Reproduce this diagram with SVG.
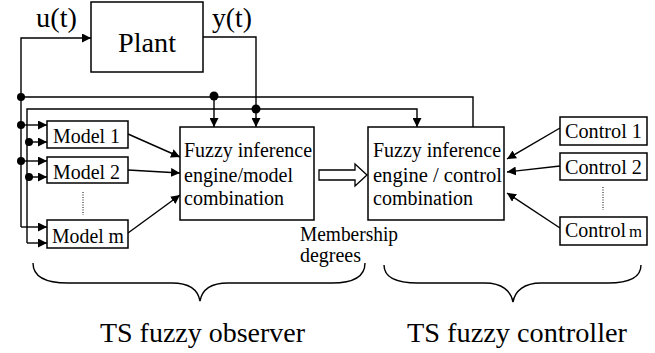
<svg xmlns="http://www.w3.org/2000/svg" width="655" height="353" viewBox="0 0 655 353">
  <style>
    .box { fill: #fff; stroke: #000; stroke-width: 1.5; }
    .wire { fill: none; stroke: #000; stroke-width: 1.4; }
    .arr { fill: none; stroke: #000; stroke-width: 1.4; marker-end: url(#head); }
    .dot { fill: #000; }
    .dots { fill: none; stroke: #000; stroke-width: 1; stroke-dasharray: 1 1.5; }
    .brace { fill: none; stroke: #000; stroke-width: 1.4; }
    .t20 { font-size: 20px; }
    .t28 { font-size: 28px; }
  </style>
  <defs>
    <marker id="head" viewBox="0 0 10 10" refX="10" refY="5" markerWidth="9" markerHeight="9" markerUnits="userSpaceOnUse" orient="auto">
      <path d="M0,0 L10,5 L0,10 Z" fill="#000"/>
    </marker>
  </defs>
  <rect width="655" height="353" fill="#fff"/>

  <!-- signal wiring -->
  <g id="connectors">
    <!-- u(t): controller output back to plant input -->
    <path class="wire" d="M473,127 L473,97 L21,97"/>
    <path class="arr" d="M21,97 L21,38 L91,38"/>
    <path class="wire" d="M21,97 L21,227"/>
    <path class="arr" d="M214,97 L214,127"/>
    <!-- y(t): plant output -->
    <path class="arr" d="M203,37 L256,37 L256,127"/>
    <path class="arr" d="M256,109 L417,109 L417,127"/>
    <path class="wire" d="M256,109 L27,109 L27,243"/>
    <!-- inputs to local models -->
    <path class="arr" d="M21,125 L47,125"/>
    <path class="arr" d="M28,142 L47,142"/>
    <path class="arr" d="M21,161 L47,161"/>
    <path class="arr" d="M28,177 L47,177"/>
    <path class="arr" d="M21,227 L47,227"/>
    <path class="arr" d="M27,243 L47,243"/>
    <!-- model outputs to observer -->
    <path class="arr" d="M128,134 L180,157"/>
    <path class="arr" d="M128,170 L180,173"/>
    <path class="arr" d="M128,233 L180,195"/>
    <!-- local controllers to control combination -->
    <path class="arr" d="M560,128 L507,159"/>
    <path class="arr" d="M560,166 L507,172"/>
    <path class="arr" d="M560,228 L507,193"/>
    <!-- membership degrees (hollow arrow) -->
    <path d="M319,170 L355,170 L355,164 L367,175 L355,186 L355,180 L319,180 Z" fill="#fff" stroke="#000" stroke-width="1.3"/>
    <!-- junction dots -->
    <circle class="dot" cx="21" cy="97" r="4"/>
    <circle class="dot" cx="214" cy="96" r="4.5"/>
    <circle class="dot" cx="256" cy="109" r="4.5"/>
    <circle class="dot" cx="21" cy="125" r="4"/>
    <circle class="dot" cx="29" cy="142" r="4"/>
    <circle class="dot" cx="21" cy="161" r="4"/>
    <circle class="dot" cx="29" cy="177" r="4"/>
    <!-- ellipsis between models / controllers -->
    <line class="dots" x1="83" y1="192" x2="83" y2="215"/>
    <line class="dots" x1="603" y1="187" x2="603" y2="210"/>
  </g>

  <g font-family="'Liberation Serif', Tinos, 'Times New Roman', Times, 'Nimbus Roman', FreeSerif, 'DejaVu Serif', serif" fill="#000" lengthAdjust="spacingAndGlyphs">
  <g id="plant">
    <rect class="box" x="91" y="2" width="112" height="70"/>
    <text class="t28" x="118" y="52" textLength="58" lengthAdjust="spacingAndGlyphs">Plant</text>
  </g>
  <g id="label-u">
    <text class="t28" x="36" y="27" textLength="41" lengthAdjust="spacingAndGlyphs">u(t)</text>
  </g>
  <g id="label-y">
    <text class="t28" x="212" y="27" textLength="40" lengthAdjust="spacingAndGlyphs">y(t)</text>
  </g>

  <g id="model-1">
    <rect class="box" x="47" y="121" width="81" height="27"/>
    <text class="t20" x="53" y="143" textLength="67" lengthAdjust="spacingAndGlyphs">Model 1</text>
  </g>
  <g id="model-2">
    <rect class="box" x="47" y="157" width="81" height="26"/>
    <text class="t20" x="53" y="179" textLength="67" lengthAdjust="spacingAndGlyphs">Model 2</text>
  </g>
  <g id="model-m">
    <rect class="box" x="47" y="220" width="81" height="28"/>
    <text class="t20" x="52" y="243" textLength="72" lengthAdjust="spacingAndGlyphs">Model m</text>
  </g>

  <g id="observer-engine">
    <rect class="box" x="180" y="127" width="134" height="93"/>
    <text class="t20" x="184" y="157" textLength="128" lengthAdjust="spacingAndGlyphs">Fuzzy inference</text>
    <text class="t20" x="184" y="182" textLength="109" lengthAdjust="spacingAndGlyphs">engine/model</text>
    <text class="t20" x="184" y="205" textLength="100" lengthAdjust="spacingAndGlyphs">combination</text>
  </g>

  <g id="controller-engine">
    <rect class="box" x="368" y="127" width="136" height="93"/>
    <text class="t20" x="373" y="157" textLength="128" lengthAdjust="spacingAndGlyphs">Fuzzy inference</text>
    <text class="t20" x="373" y="182" textLength="129" lengthAdjust="spacingAndGlyphs">engine / control</text>
    <text class="t20" x="373" y="205" textLength="100" lengthAdjust="spacingAndGlyphs">combination</text>
  </g>

  <g id="control-1">
    <rect class="box" x="560" y="117" width="87" height="28"/>
    <text class="t20" x="565" y="138" textLength="77" lengthAdjust="spacingAndGlyphs">Control 1</text>
  </g>
  <g id="control-2">
    <rect class="box" x="560" y="153" width="87" height="27"/>
    <text class="t20" x="565" y="174" textLength="77" lengthAdjust="spacingAndGlyphs">Control 2</text>
  </g>
  <g id="control-m">
    <rect class="box" x="560" y="217" width="87" height="28"/>
    <text class="t20" x="565" y="237" textLength="61" lengthAdjust="spacingAndGlyphs">Control</text>
    <text x="629" y="237" font-size="16" textLength="13" lengthAdjust="spacingAndGlyphs">m</text>
  </g>

  <g id="membership-label">
    <text class="t20" x="300" y="241" textLength="98" lengthAdjust="spacingAndGlyphs">Membership</text>
    <text class="t20" x="300" y="262" textLength="61" lengthAdjust="spacingAndGlyphs">degrees</text>
  </g>

  <g id="observer-group">
    <path class="brace" d="M33,263 C33,276 44,283 68,283 L172,283 C189,283 198,290 200,301 C202,290 211,283 228,283 L332,283 C355,283 365,276 365,263"/>
    <text class="t28" x="100" y="342" textLength="205" lengthAdjust="spacingAndGlyphs">TS fuzzy observer</text>
  </g>
  <g id="controller-group">
    <path class="brace" d="M384,265 C384,277 395,283 418,283 L485,283 C502,283 511,291 513,302 C515,291 524,283 541,283 L608,283 C630,283 641,277 641,265"/>
    <text class="t28" x="407" y="342" textLength="220" lengthAdjust="spacingAndGlyphs">TS fuzzy controller</text>
  </g>
  </g>
</svg>
